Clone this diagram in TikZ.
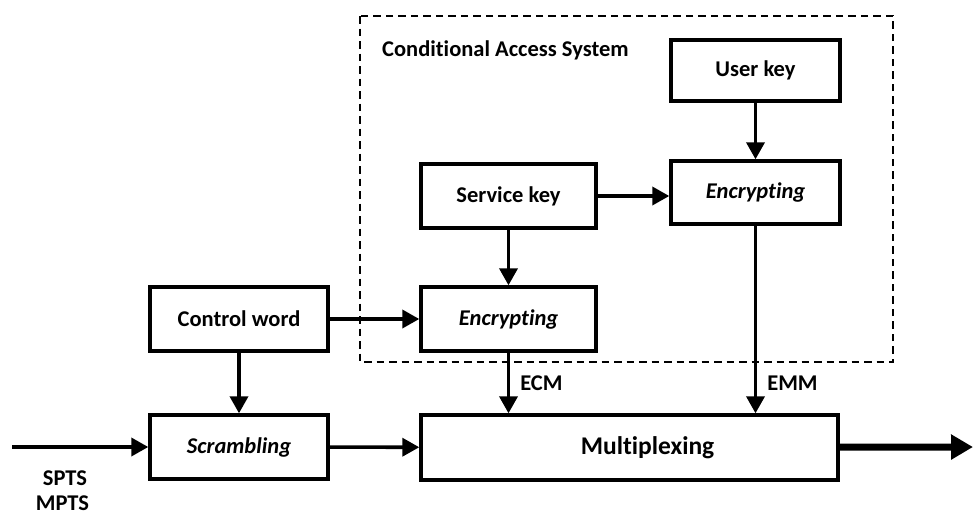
\documentclass[tikz,border=0pt]{standalone}
\usepackage{fontspec}
\setmainfont{Carlito}[Ligatures=NoCommon]
\usetikzlibrary{arrows.meta}
\begin{document}
\begin{tikzpicture}[x=1pt,y=-1pt,
  blk/.style={draw,line width=3.4pt,inner sep=0pt,font=\bfseries\fontsize{22.5}{26}\selectfont},
  flow/.style={line width=3.6pt,-{Triangle[length=17pt,width=18pt]}},
  tag/.style={font=\bfseries\fontsize{22.5}{26}\selectfont,inner sep=0pt}]
\useasboundingbox (0,0) rectangle (973,517);
% conditional access system frame
\draw[line width=2.2pt,dash pattern=on 7.5pt off 5pt] (360,16) rectangle (893,362);
\node[tag,anchor=west] (cas) at (382,50) {Conditional Access System};
% blocks
\node[blk,minimum width=169pt,minimum height=61pt] (user) at (755.5,70.5) {User key};
\node[blk,minimum width=169pt,minimum height=63pt] (encU) at (755.5,192.5) {\itshape Encrypting};
\node[blk,minimum width=175pt,minimum height=64pt] (svc) at (508.5,196) {Service key};
\node[blk,minimum width=175pt,minimum height=64pt] (encL) at (508.5,319) {\itshape Encrypting};
\node[blk,minimum width=178pt,minimum height=64pt] (cw) at (239,319) {Control word};
\node[blk,minimum width=178pt,minimum height=64pt] (scr) at (239,447) {\itshape Scrambling};
\node[blk,minimum width=417pt,minimum height=65pt,font=\bfseries\fontsize{25.5}{30}\selectfont] (mux) at (629.5,447.5) {\hspace*{36pt}Multiplexing};
% free ends of the transport stream
\coordinate (in) at (12,447);
\coordinate (out) at (973,447);
% connectors
\draw[flow] (user) -- (encU);
\draw[flow] (svc.east) -- (encU.west |- svc.east);
\draw[flow] (svc) -- (encL);
\draw[flow] (cw) -- (encL);
\draw[flow] (cw) -- (scr);
\draw[flow] (in) -- (scr);
\draw[flow] (scr) -- (mux);
\draw[flow] (encL) -- (mux.north -| encL) node[tag,pos=0.5,right=10pt] (ecm) {ECM};
\draw[flow] (encU) -- (mux.north -| encU) node[tag,pos=0.84,right=10pt] (emm) {EMM};
\draw[line width=7pt,-{Triangle[length=22pt,width=24pt]}] (mux) -- (out);
% stream types
\node[tag] (spts) at (65,478) {SPTS};
\node[tag] (mpts) at (62.5,503.5) {MPTS};
\end{tikzpicture}
\end{document}
